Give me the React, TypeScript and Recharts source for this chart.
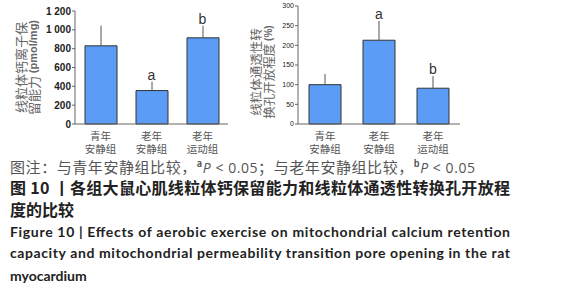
import React from "react";
import { BarChart, Bar, XAxis, YAxis, ErrorBar, ReferenceDot, Cell } from "recharts";

const groups = ["青年\n安静组", "老年\n安静组", "老年\n运动组"];
const calciumMean = [830, 355, 915];
const calciumErr = [215, 95, 130];
const calciumSig = ["", "a", "b"];
const calciumTicks = [0, 200, 400, 600, 800, 1000, 1200];

const mptpMean = [100, 213, 91];
const mptpErr = [27, 49, 31];
const mptpSig = ["", "a", "b"];
const mptpTicks = [0, 50, 100, 150, 200, 250, 300];

const BAR_FILL = "#5a9cf6";
const CJK = "'Noto Sans CJK SC', 'Noto Sans', sans-serif";

const calciumData = groups.map((g, i) => ({
  group: g,
  mean: calciumMean[i],
  err: [0, calciumErr[i]],
  top: calciumMean[i] + calciumErr[i],
  sig: calciumSig[i],
}));

const mptpData = groups.map((g, i) => ({
  group: g,
  mean: mptpMean[i],
  err: [0, mptpErr[i]],
  top: mptpMean[i] + mptpErr[i],
  sig: mptpSig[i],
}));

const GroupTick = ({ x, y, payload }: any) => {
  const lines = String(payload.value).split("\n");
  return (
    <g>
      {lines.map((l, i) => (
        <text key={i} x={x} y={y + 10 + i * 12.5} textAnchor="middle" fill="#555" fontSize={10.5} fontFamily={CJK}>
          {l}
        </text>
      ))}
    </g>
  );
};

const fmtThousands = (v: number) => (v >= 1000 ? `${Math.floor(v / 1000)} ${String(v % 1000).padStart(3, "0")}` : String(v));

function axisTitle(line1: string, line2: React.ReactNode, x1: number, x2: number, shift: number, size: number) {
  return (props: any) => {
    const vb = props.viewBox || {};
    const cy = vb.y + vb.height / 2 + shift;
    return (
      <g fill="#666" fontFamily={CJK} fontSize={size}>
        <text x={x1} y={cy} textAnchor="middle" dominantBaseline="central" transform={`rotate(-90 ${x1} ${cy})`}>
          {line1}
        </text>
        <text x={x2} y={cy} textAnchor="middle" dominantBaseline="central" transform={`rotate(-90 ${x2} ${cy})`}>
          {line2}
        </text>
      </g>
    );
  };
}

function SigChart({ data, ticks, width, yWidth, marginTop, marginRight, tickFont, tickWeight, tickFormatter, title }: any) {
  return (
    <BarChart width={width} height={164} data={data} margin={{ top: marginTop, right: marginRight, left: 0, bottom: 0 }} barCategoryGap={0}>
      <XAxis
        dataKey="group"
        tick={<GroupTick />}
        tickLine={false}
        axisLine={{ stroke: "#666" }}
        height={40}
        interval={0}
        tickMargin={0}
      />
      <YAxis
        domain={[0, ticks[ticks.length - 1]]}
        ticks={ticks}
        width={yWidth}
        tickSize={3}
        tickMargin={1}
        tickLine={{ stroke: "#666" }}
        axisLine={{ stroke: "#666" }}
        tick={{ fontSize: tickFont, fill: "#222", fontWeight: tickWeight, fontFamily: "'Liberation Sans', Arial, sans-serif" }}
        tickFormatter={tickFormatter}
        interval={0}
        label={{ content: title }}
      />
      <Bar dataKey="mean" barSize={32} stroke="#333" strokeWidth={1} isAnimationActive={false}>
        {data.map((d: any, i: number) => (
          <Cell key={i} fill={BAR_FILL} />
        ))}
        <ErrorBar dataKey="err" direction="y" width={0} stroke="#555" strokeWidth={1} isAnimationActive={false} />
      </Bar>
      {data
        .filter((d: any) => d.sig)
        .map((d: any) => (
          <ReferenceDot
            key={d.group}
            x={d.group}
            y={d.top}
            r={0}
            fill="none"
            stroke="none"
            label={{ value: d.sig, position: "top", fill: "#333", fontSize: 14, offset: 2, fontFamily: "'Liberation Sans', Arial, sans-serif" }}
          />
        ))}
    </BarChart>
  );
}

export default function App() {
  return (
    <div style={{ position: "absolute", left: 0, top: 0, width: 566, height: 300, background: "#fff", overflow: "hidden" }}>
      <div style={{ position: "absolute", left: 0, top: 0 }}>
        <SigChart
          data={calciumData}
          ticks={calciumTicks}
          width={235}
          yWidth={75}
          marginTop={11}
          marginRight={7}
          tickFont={10}
          tickWeight={700}
          tickFormatter={fmtThousands}
          title={axisTitle(
            "线粒体钙离子保",
            <>
              留能力 <tspan fontFamily="'Liberation Sans', Arial, sans-serif" fontWeight={700} fontSize={11}>(pmol/mg)</tspan>
            </>,
            20,
            33,
            0,
            13
          )}
        />
      </div>
      <div style={{ position: "absolute", left: 230, top: 0 }}>
        <SigChart
          data={mptpData}
          ticks={mptpTicks}
          width={232}
          yWidth={68}
          marginTop={6}
          marginRight={2}
          tickFont={7}
          tickWeight={400}
          tickFormatter={(v: number) => String(v)}
          title={axisTitle(
            "线粒体通透性转",
            <>
              换孔开放程度 <tspan fontFamily="'Liberation Sans', Arial, sans-serif" fontWeight={700} fontSize={10}>(%)</tspan>
            </>,
            25,
            38,
            7,
            12.5
          )}
        />
      </div>
      <svg width={566} height={300} style={{ position: "absolute", left: 0, top: 0, pointerEvents: "none" }}>
        <text x={10} y={173} fontSize={15} fill="#555" fontFamily={CJK} textLength={465} lengthAdjust="spacing">
          图注：与青年安静组比较，
          <tspan fontSize={9} dy={-6} fontWeight={700}>a</tspan>
          <tspan dy={6} fontStyle="italic" fontFamily="'Open Sans', sans-serif" fontSize={14}>P</tspan>
          <tspan fontFamily="'Open Sans', sans-serif" fontSize={14}> &lt; 0.05</tspan>
          ；与老年安静组比较，
          <tspan fontSize={9} dy={-6} fontWeight={700}>b</tspan>
          <tspan dy={6} fontStyle="italic" fontFamily="'Open Sans', sans-serif" fontSize={14}>P</tspan>
          <tspan fontFamily="'Open Sans', sans-serif" fontSize={14}> &lt; 0.05</tspan>
        </text>
        <g fontFamily={CJK} fontWeight={700} fontSize={16} fill="#222">
          <text x={10} y={194} textLength={500} lengthAdjust="spacing">
            图 10 丨各组大鼠心肌线粒体钙保留能力和线粒体通透性转换孔开放程
          </text>
          <text x={10} y={216}>度的比较</text>
        </g>
        <g fontFamily="Lato, 'Open Sans', sans-serif" fontWeight={700} fontSize={14} fill="#222">
          <text x={10} y={237} textLength={500} lengthAdjust="spacing">
            Figure 10  |  Effects of aerobic exercise on mitochondrial calcium retention
          </text>
          <text x={10} y={258} textLength={500} lengthAdjust="spacing">
            capacity and mitochondrial permeability transition pore opening in the rat
          </text>
          <text x={10} y={281}>myocardium</text>
        </g>
      </svg>
    </div>
  );
}
